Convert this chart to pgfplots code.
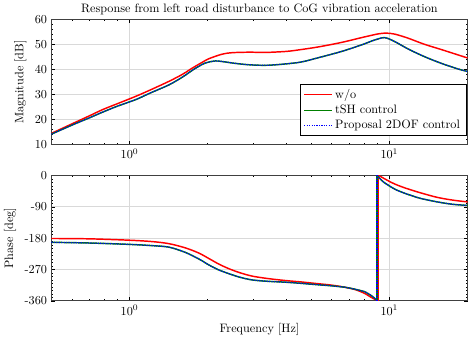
\documentclass[border=0pt]{standalone}
\usepackage{pgfplots}
\pgfplotsset{compat=1.18}
\definecolor{mygreen}{rgb}{0,0.5,0}
\pgfplotstableread{
f m
0.5 14.5
0.6 18.3
0.7 21.5
0.788 24.0
0.9 26.4
1.057 29.3
1.2 31.8
1.42 35.3
1.6 38.1
1.74 40.5
1.9 42.8
2.02 44.3
2.27 46.1
2.48 46.7
2.9 46.9
3.33 46.8
4.0 47.2
4.47 47.8
5.33 49.0
6.55 50.8
7.81 52.7
9.06 54.2
9.74 54.5
10.5 54.1
11.8 52.5
13.6 50.1
15.8 48.0
18.4 45.8
20 44.6
}\magred
\pgfplotstableread{
f m
0.5 14.2
0.6 17.8
0.7 20.7
0.788 23.0
0.9 25.4
1.057 28.0
1.2 30.6
1.42 33.9
1.6 37.0
1.74 39.6
1.85 41.3
1.96 42.6
2.14 43.4
2.34 43.0
2.48 42.6
2.87 41.9
3.43 41.7
4.47 42.8
5.33 44.7
6.55 47.2
7.81 49.8
8.8 51.8
9.6 52.7
10.5 51.1
11.8 48.2
13.6 45.2
15.8 42.5
18.4 40.2
20 39.2
}\maggreen
\pgfplotstableread{
f p
0.5 -181
0.7 -182
1.0 -186
1.225 -190
1.42 -196
1.64 -208
1.85 -223
2.02 -238.6
2.2 -254
2.41 -267.7
2.65 -279
2.96 -289
3.4 -296
3.97 -301.7
4.6 -306
5.33 -311
6.0 -315
6.73 -321
7.4 -328
8.05 -339
8.34 -346
8.7 -354
9.1 -360
}\phredA
\pgfplotstableread{
f p
9.1 0
9.4 -6
10 -17
10.6 -26
11.4 -35
12.3 -43
13.2 -50
15.3 -63
17.6 -71
20 -76
}\phredB
\pgfplotstableread{
f p
0.5 -192
0.7 -194
1.0 -198
1.225 -201.6
1.42 -206
1.64 -221
1.85 -240
2.02 -257
2.2 -271
2.41 -282
2.65 -292
2.96 -300
3.4 -304
3.97 -306.5
4.6 -310
5.33 -314
6.0 -317
6.73 -321
7.4 -327
8.05 -334
8.34 -340.6
8.7 -350
8.97 -360
}\phgreenA
\pgfplotstableread{
f p
8.97 0
9.2 -9
9.5 -19
10 -30
10.6 -41
11.4 -50.5
12.3 -59
13.2 -66
15.3 -76
17.6 -83
20 -86
}\phgreenB
\pgfplotsset{
  every axis/.append style={
    scale only axis, width=341pt, height=102.7pt,
    xmin=0.5, xmax=20,
    grid=major, major grid style={gray!30, line width=0.55pt},
    tick align=inside, tick style={black, line width=0.45pt},
    axis line style={black!75, line width=0.75pt},
    minor tick length=1.4pt, major tick length=2.8pt,
  },
}
\begin{document}
\begin{tikzpicture}
\begin{semilogxaxis}[name=top,
  ymin=10, ymax=60, ytick={10,20,...,60}, minor y tick num=4,
  ylabel={Magnitude [dB]},
  title={Response from left road disturbance to CoG vibration acceleration},
  title style={yshift=-6pt},
  legend style={at={(0.997,0.07)}, anchor=south east},
  legend cell align=left,
  legend image code/.code={\draw[mark repeat=2,mark phase=2,#1] plot coordinates {(0cm,0cm) (0.4cm,0cm) (0.8cm,0cm)};},
]
\addplot[color=red, line width=1.2pt, smooth, forget plot] table[x=f,y=m] {\magred};
\addplot[color=mygreen, line width=1.2pt, smooth, forget plot] table[x=f,y=m] {\maggreen};
\addplot[color=blue, line width=1.0pt, densely dotted, smooth, forget plot] table[x=f,y=m] {\maggreen};
\addlegendimage{color=red, line width=1.2pt}
\addlegendentry{w/o}
\addlegendimage{color=mygreen, line width=1.2pt}
\addlegendentry{tSH control}
\addlegendimage{color=blue, line width=1.0pt, densely dotted}
\addlegendentry{Proposal 2DOF control}
\end{semilogxaxis}
\begin{semilogxaxis}[at={(top.south west)}, anchor=north west, yshift=-25.2pt,
  ymin=-360, ymax=0, ytick={-360,-270,-180,-90,0},
  yticklabels={-360,-270,-180,-90,0}, minor y tick num=8,
  ylabel={Phase [deg]}, xlabel={Frequency [Hz]},
]
\addplot[color=red, line width=1.2pt, smooth] table[x=f,y=p] {\phredA};
\addplot[color=red, line width=1.2pt] coordinates {(9.1,-360) (9.1,0)};
\addplot[color=red, line width=1.2pt, smooth] table[x=f,y=p] {\phredB};
\addplot[color=mygreen, line width=1.2pt, smooth] table[x=f,y=p] {\phgreenA};
\addplot[color=mygreen, line width=1.2pt] coordinates {(8.97,-360) (8.97,0)};
\addplot[color=mygreen, line width=1.2pt, smooth] table[x=f,y=p] {\phgreenB};
\addplot[color=blue, line width=1.0pt, densely dotted, smooth] table[x=f,y=p] {\phgreenA};
\addplot[color=blue, line width=1.0pt, densely dotted] coordinates {(8.97,-360) (8.97,0)};
\addplot[color=blue, line width=1.0pt, densely dotted, smooth] table[x=f,y=p] {\phgreenB};
\end{semilogxaxis}
\end{tikzpicture}
\end{document}
